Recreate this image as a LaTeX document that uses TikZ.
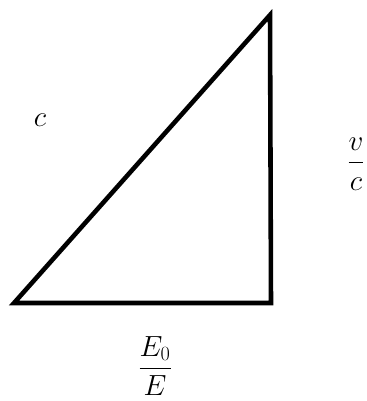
\documentclass[tikz,border=0pt]{standalone}
\usepackage{amsmath}
\usepackage{tikz}
\tikzset{
  trside/.style={line width=3.9pt, draw=black, line join=miter},
  trlabel/.style={inner sep=0pt, font=\fontsize{26}{30}\selectfont},
}

\begin{document}
\begin{tikzpicture}[x=0.03cm, y=-0.03cm]
\useasboundingbox (0,0) rectangle (366,401);
\coordinate (bl) at (14,303);
\coordinate (br) at (271,303);
\coordinate (tr) at (270,15);
\draw[trside] (bl) -- (br) -- (tr) -- cycle;
\node[trlabel] (hyp) at (40,120) {$c$};
\node[trlabel] (side) at (356,164) {$\dfrac{v}{c}$};
\node[trlabel] (base) at (155,366) {$\dfrac{E_0}{E}$};
\end{tikzpicture}
\end{document}
